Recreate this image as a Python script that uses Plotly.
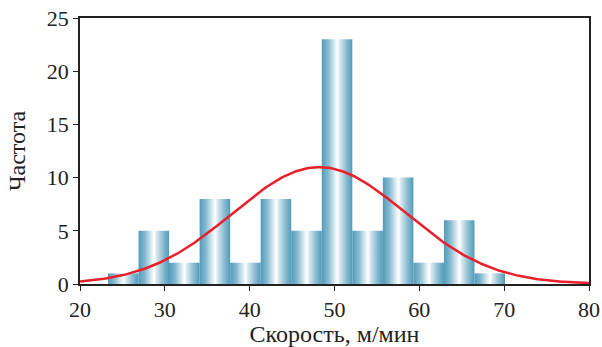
import numpy as np
import plotly.graph_objects as go

# Histogram data
bin_start = 23.3
bin_width = 3.6
counts = [1, 5, 2, 8, 2, 8, 5, 23, 5, 10, 2, 6, 1]

# Fitted normal curve parameters
mu = 48.2
sigma = 10.2
n_total = sum(counts)

x_ticks = [20, 30, 40, 50, 60, 70, 80]
y_ticks = [0, 5, 10, 15, 20, 25]

grad = [[0.0, '#529bba'], [0.2, '#82b8cf'], [0.45, '#e8f2f7'], [0.52, '#ffffff'],
        [0.58, '#dbeaf1'], [0.8, '#8cbdd2'], [1.0, '#529bba']]

fig = go.Figure()
for i, c in enumerate(counts):
    x0 = bin_start + i * bin_width
    x1 = x0 + bin_width
    fig.add_trace(go.Scatter(
        x=[x0, x0, x1, x1, x0], y=[0, c, c, 0, 0],
        mode='lines', line=dict(width=0), fill='toself',
        fillgradient=dict(type='horizontal', colorscale=grad, start=x0, stop=x1),
        hoverinfo='skip', showlegend=False))

xc = np.linspace(20, 80, 300)
yc = n_total * bin_width / (sigma * np.sqrt(2 * np.pi)) * np.exp(-(xc - mu) ** 2 / (2 * sigma ** 2))
fig.add_trace(go.Scatter(x=xc, y=yc, mode='lines', line=dict(color='#e8202a', width=2.5),
                         showlegend=False, hoverinfo='skip'))

tfont = dict(family='Liberation Serif', size=22, color='#222')
hfont = dict(family='Liberation Serif', size=24, color='#222')
fig.update_layout(
    width=602, height=347,
    margin=dict(l=80, r=13, t=18, b=63, autoexpand=False),
    plot_bgcolor='white', paper_bgcolor='white',
    font=tfont,
    xaxis=dict(range=[20, 80], tickvals=x_ticks, ticks='outside', ticklen=5, tickwidth=1.2,
               tickcolor='#222', showline=True, linecolor='#222', linewidth=1.5, mirror=True,
               showgrid=False, zeroline=False, tickfont=tfont, automargin=False,
               ticklabeloverflow='allow',
               title=dict(text='Скорость, м/мин', font=hfont, standoff=16)),
    yaxis=dict(range=[0, 25], tickvals=y_ticks, ticks='outside', ticklen=5, tickwidth=1.2,
               tickcolor='#222', showline=True, linecolor='#222', linewidth=1.5, mirror=True,
               showgrid=False, zeroline=False, tickfont=tfont, automargin=False,
               ticklabeloverflow='allow',
               title=dict(text='Частота', font=hfont, standoff=14)),
)
# remove the browser's default 8px body margin so the figure sits at the window origin
fig.write_html('out.html', config={'displayModeBar': False},
               post_script="document.body.style.margin='0';")
